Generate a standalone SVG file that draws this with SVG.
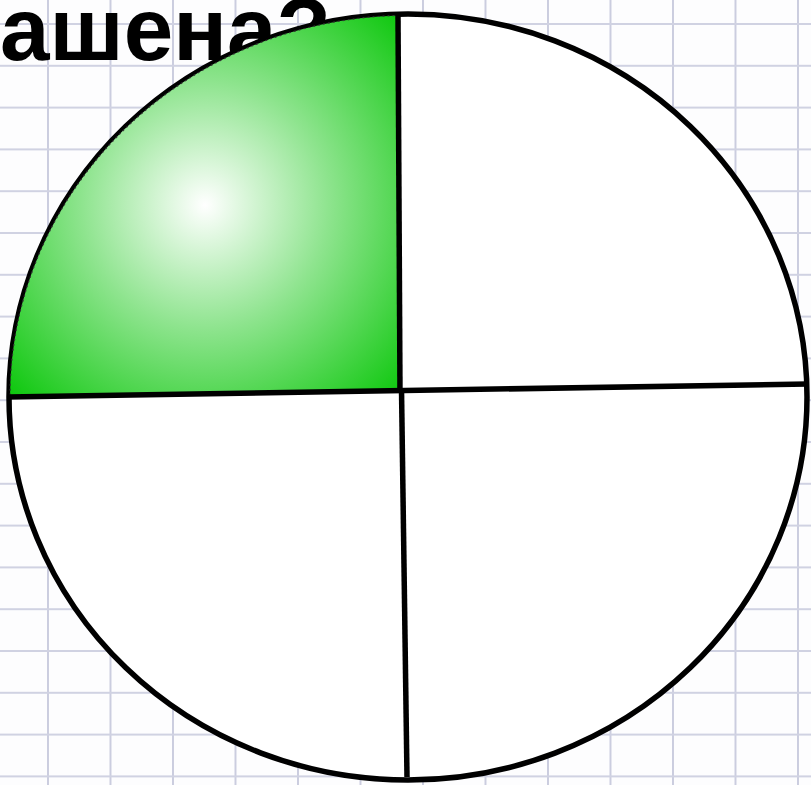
<svg xmlns="http://www.w3.org/2000/svg" width="811" height="785" viewBox="0 0 811 785">
<defs>
<radialGradient id="g" gradientUnits="userSpaceOnUse" cx="205" cy="205" r="275">
<stop offset="0" stop-color="#ffffff"/>
<stop offset="0.45" stop-color="#8ee48e"/>
<stop offset="1" stop-color="#0bc70b"/>
</radialGradient>
<pattern id="grid" patternUnits="userSpaceOnUse" x="47" y="23" width="62.5" height="41.8">
<rect width="62.5" height="41.8" fill="#fdfdfe"/>
<line x1="0" y1="0" x2="0" y2="41.8" stroke="#cbcddf" stroke-width="4"/>
<line x1="0" y1="0" x2="62.5" y2="0" stroke="#d0d2e2" stroke-width="4"/>
</pattern>
<style>
.ln{stroke:#000;stroke-width:5.5;fill:none;stroke-linecap:butt}
.t{font-family:"Liberation Sans",Arial,sans-serif;font-weight:bold;font-size:89px;fill:#000}
</style>
</defs>
<rect id="background" width="811" height="785" fill="url(#grid)"/>
<text class="t" x="0" y="60">ашена?</text>
<g id="circle">
<ellipse cx="408" cy="397" rx="399" ry="383" fill="#fff" stroke="#000" stroke-width="5.5"/>
</g>
<g id="shaded">
<path d="M 399,390.5 L 10,396.5 A 398 382 0 0 1 398,15.5 Z" fill="url(#g)" stroke="#333" stroke-width="1.2" stroke-dasharray="2 3"/>
</g>
<g id="connectors">
<line class="ln" x1="398" y1="14" x2="400" y2="392"/>
<line class="ln" x1="401.5" y1="389" x2="407" y2="777"/>
<line class="ln" x1="8" y1="397" x2="808" y2="384"/>
</g>
</svg>
